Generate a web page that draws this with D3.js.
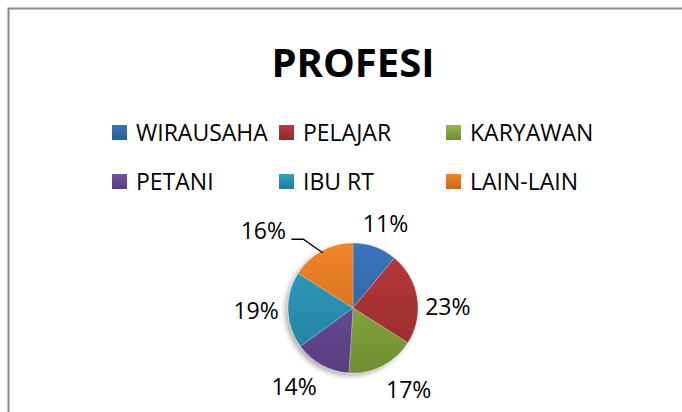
<!DOCTYPE html>
<html>
<head>
<meta charset="utf-8">
<script src="https://cdn.jsdelivr.net/npm/d3@7"></script>
<style>
  body { margin: 0; background: #fff; }
  svg text { font-family: "Open Sans", "DejaVu Sans", sans-serif; fill: #000; }
</style>
</head>
<body>
<div id="chart"></div>
<script>
'use strict';

// data
const categories = ['WIRAUSAHA', 'PELAJAR', 'KARYAWAN', 'PETANI', 'IBU RT', 'LAIN-LAIN'];
const values     = [11, 23, 17, 14, 19, 16];
const colorsTop  = ['#3b74bb', '#bb3a3d', '#95b74a', '#7254a0', '#31a0c3', '#f08428'];
const colorsBot  = ['#2c5c98', '#922a2c', '#6f8d2f', '#5a3d82', '#217c9b', '#cb671b'];
const title = 'PROFESI';

const width = 682, height = 412;
const cx = 353, cy = 308, radius = 65;

const svg = d3.select('#chart').append('svg')
  .attr('width', width)
  .attr('height', height);

// chart frame (right/bottom edges fall outside the picture)
svg.append('rect')
  .attr('x', 8.5).attr('y', 8.5)
  .attr('width', 700).attr('height', 420)
  .attr('fill', '#fff')
  .attr('stroke', '#8a8a8a')
  .attr('stroke-width', 2);

const defs = svg.append('defs');

// per colour vertical gradient (pie one spans the whole pie)
colorsTop.forEach((c, i) => {
  const g = defs.append('linearGradient')
    .attr('id', 'pg' + i)
    .attr('gradientUnits', 'userSpaceOnUse')
    .attr('x1', 0).attr('y1', -radius)
    .attr('x2', 0).attr('y2', radius);
  g.append('stop').attr('offset', '0%').attr('stop-color', c);
  g.append('stop').attr('offset', '100%').attr('stop-color', colorsBot[i]);

  const lg = defs.append('linearGradient')
    .attr('id', 'lg' + i)
    .attr('x1', 0).attr('y1', 0).attr('x2', 0).attr('y2', 1);
  lg.append('stop').attr('offset', '0%').attr('stop-color', c);
  lg.append('stop').attr('offset', '100%').attr('stop-color', colorsBot[i]);
});

const shadow = defs.append('filter').attr('id', 'shadow')
  .attr('x', '-20%').attr('y', '-20%').attr('width', '140%').attr('height', '140%');
shadow.append('feDropShadow')
  .attr('dx', -3).attr('dy', 3)
  .attr('stdDeviation', 2.5)
  .attr('flood-color', '#000')
  .attr('flood-opacity', 0.3);

// title
svg.append('text')
  .attr('x', 353).attr('y', 77)
  .attr('text-anchor', 'middle')
  .style('font-size', '40px')
  .style('font-weight', 'bold')
  .text(title);

// legend, 3 columns x 2 rows
const legend = svg.append('g').attr('class', 'legend');
const colX = d3.scaleBand().domain([0, 1, 2]).range([112, 613]);
const rowY = d3.scaleBand().domain([0, 1]).range([125, 223]);

const items = legend.selectAll('g')
  .data(categories)
  .enter()
  .append('g')
  .attr('transform', (d, i) => `translate(${colX(i % 3)},${rowY(Math.floor(i / 3))})`);

items.append('rect')
  .attr('width', 15).attr('height', 15)
  .attr('fill', (d, i) => `url(#lg${i})`);

items.append('text')
  .attr('x', 24).attr('y', 15.5)
  .style('font-size', '23px')
  .text(d => d);

// pie
const pie = d3.pie().sort(null).value(d => d);
const arc = d3.arc().innerRadius(0).outerRadius(radius);
const arcsData = pie(values);

const pg = svg.append('g')
  .attr('transform', `translate(${cx},${cy})`);

pg.append('g')
  .attr('filter', 'url(#shadow)')
  .selectAll('path')
  .data(arcsData)
  .enter()
  .append('path')
  .attr('d', arc)
  .attr('fill', (d, i) => `url(#pg${i})`)
  .attr('stroke', 'rgba(255,255,255,0.35)')
  .attr('stroke-width', 0.6);

// data labels outside the pie edge (nudged like excel best fit)
const fmt = d => d + '%';
const labelW = 44;
const leaderIndex = arcsData.length - 1;

const labelPos = (d, i) => {
  let a = (d.startAngle + d.endAngle) / 2;
  const s = Math.sin(a), c = Math.cos(a);
  if (i === leaderIndex) {
    a = a - 0.36;
    return [118 * Math.sin(a), -118 * Math.cos(a)];
  }
  return [96 * s + 30 * s * Math.max(0, -c), -90 * c + 14 * Math.pow(Math.max(0, s), 3)];
};

pg.selectAll('text.lbl')
  .data(arcsData)
  .enter()
  .append('text')
  .attr('class', 'lbl')
  .attr('text-anchor', 'middle')
  .attr('x', (d, i) => labelPos(d, i)[0])
  .attr('y', (d, i) => labelPos(d, i)[1] + 8)
  .style('font-size', '23px')
  .text(d => fmt(d.data));

// leader line for the label moved away from its slice
const ld = arcsData[leaderIndex];
const lp = labelPos(ld, leaderIndex);
const edge = d3.arc().innerRadius(radius - 2).outerRadius(radius - 2).centroid(ld);
pg.append('polyline')
  .attr('points', [
    [lp[0] + labelW / 2 + 6, lp[1] + 8],
    [lp[0] + labelW / 2 + 18, lp[1] + 8],
    [edge[0], edge[1]]
  ].map(p => p.join(',')).join(' '))
  .attr('fill', 'none')
  .attr('stroke', '#000')
  .attr('stroke-width', 1.3);
</script>
</body>
</html>
